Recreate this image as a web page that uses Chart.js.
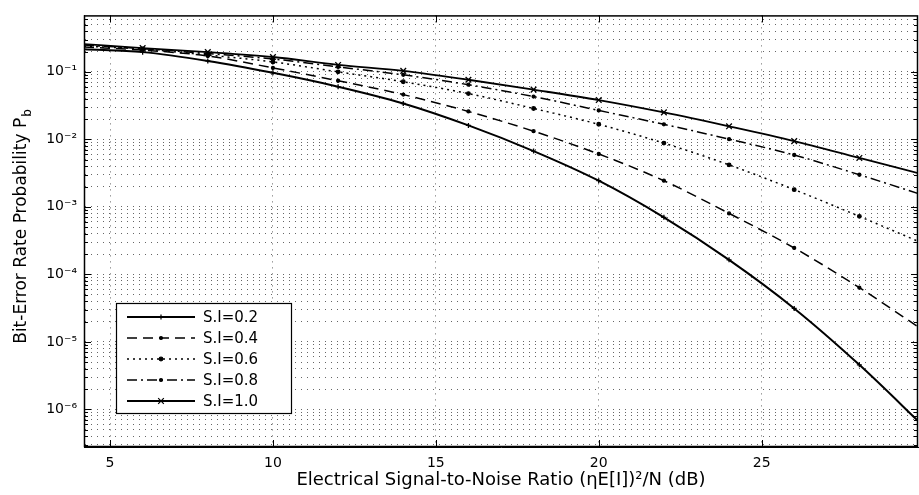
<!DOCTYPE html>
<html>
<head>
<meta charset="utf-8">
<script src="https://cdn.jsdelivr.net/npm/chart.js@4.4.1/dist/chart.umd.min.js"></script>
<style>
  html, body { margin: 0; padding: 0; background: #fff; }
  #wrap { width: 919px; height: 495px; }
</style>
</head>
<body>
<div id="wrap"><canvas id="ber_chart" width="919" height="495"></canvas></div>
<script>
// SNR in dB (x axis)
var snr_db = [4.2, 6, 8, 10, 12, 14, 16, 18, 20, 22, 24, 26, 28, 30];

// bit-error rate per scintillation index
var ber_si02 = [0.217, 0.196, 0.145, 0.0967, 0.0603, 0.034, 0.0161, 0.00671, 0.00244, 0.000699, 0.000164, 3.13e-5, 4.57e-6, 5.45e-7];
var ber_si04 = [0.2326, 0.2102, 0.1717, 0.1145, 0.0738, 0.046, 0.0259, 0.0132, 0.00607, 0.00244, 0.0008, 0.000246, 6.36e-5, 1.44e-5];
var ber_si06 = [0.2405, 0.2174, 0.1775, 0.1402, 0.1, 0.0714, 0.0476, 0.0287, 0.0167, 0.0088, 0.00419, 0.0018, 0.000723, 0.000281];
var ber_si08 = [0.2489, 0.221, 0.1868, 0.1551, 0.1184, 0.0904, 0.0645, 0.043, 0.0268, 0.0167, 0.01007, 0.00586, 0.00299, 0.00147];
var ber_si10 = [0.2575, 0.2248, 0.1965, 0.166, 0.1267, 0.1034, 0.0764, 0.0545, 0.0382, 0.0251, 0.0156, 0.00941, 0.0053, 0.00299];

var series_labels = ['S.I=0.2', 'S.I=0.4', 'S.I=0.6', 'S.I=0.8', 'S.I=1.0'];
var x_ticks = [5, 10, 15, 20, 25];
var y_decades = [-7, -6, -5, -4, -3, -2, -1, 0];

var sup = {'-': '\u207B', '0': '\u2070', '1': '\u00B9', '2': '\u00B2', '3': '\u00B3', '4': '\u2074', '5': '\u2075', '6': '\u2076', '7': '\u2077', '8': '\u2078', '9': '\u2079'};

function toPoints(ys) {
  return snr_db.map(function (x, i) { return {x: x, y: ys[i]}; });
}
// no marker on the points that sit on / past the frame
function markerRadius(r) {
  return snr_db.map(function (x) { return (x < 5 || x > 29) ? 0 : r; });
}
function isDecade(v) {
  var l = Math.log10(v);
  return Math.abs(l - Math.round(l)) < 1e-6;
}

var yMin = 2.77e-7, yMax = 0.686;

var frame_and_legend = {
  id: 'frame_and_legend',
  afterDatasetsDraw: function (chart) {
    var ctx = chart.ctx, a = chart.chartArea;
    var xs = chart.scales.x, ys = chart.scales.y;
    ctx.save();
    // inward tick marks
    ctx.strokeStyle = '#000';
    ctx.lineWidth = 1;
    ctx.beginPath();
    x_ticks.forEach(function (t) {
      var px = Math.round(xs.getPixelForValue(t)) + 0.5;
      ctx.moveTo(px, a.bottom); ctx.lineTo(px, a.bottom - 7);
      ctx.moveTo(px, a.top); ctx.lineTo(px, a.top + 7);
    });
    ys.ticks.forEach(function (t) {
      var py = Math.round(ys.getPixelForValue(t.value)) + 0.5;
      var len = isDecade(t.value) ? 7 : 4;
      ctx.moveTo(a.left, py); ctx.lineTo(a.left + len, py);
      ctx.moveTo(a.right, py); ctx.lineTo(a.right - len, py);
    });
    ctx.stroke();
    // frame
    ctx.lineWidth = 1.5;
    ctx.strokeRect(a.left + 0.5, a.top + 0.5, a.right - a.left - 1, a.bottom - a.top - 1);

    // legend box
    var bx = 116, by = 303, bw = 175, bh = 110;
    ctx.fillStyle = '#fff';
    ctx.fillRect(bx, by, bw, bh);
    ctx.lineWidth = 1.2;
    ctx.strokeRect(bx + 0.5, by + 0.5, bw, bh);
    ctx.font = '15px "DejaVu Sans"';
    ctx.textBaseline = 'middle';
    chart.data.datasets.forEach(function (ds, i) {
      var ry = by + 14 + i * 21;
      ctx.save();
      ctx.strokeStyle = '#000';
      ctx.lineWidth = ds.borderWidth;
      ctx.setLineDash(ds.borderDash || []);
      ctx.beginPath();
      ctx.moveTo(127, ry); ctx.lineTo(195, ry);
      ctx.stroke();
      ctx.restore();
      Chart.helpers.drawPoint(ctx, {
        pointStyle: ds.pointStyle, radius: ds.legendRadius, borderWidth: ds.pointBorderWidth, rotation: 0
      }, 161, ry);
      ctx.fillStyle = '#000';
      ctx.fillText(series_labels[i], 203, ry + 1);
    });
    ctx.restore();
  },
  afterDraw: function (chart) {
    // y axis title with subscript b
    var ctx = chart.ctx;
    ctx.save();
    ctx.translate(22, 227);
    ctx.rotate(-Math.PI / 2);
    ctx.fillStyle = '#000';
    ctx.textBaseline = 'middle';
    var main = 'Bit-Error Rate Probability P';
    ctx.font = '17px "DejaVu Sans"';
    var w1 = ctx.measureText(main).width;
    ctx.font = '12px "DejaVu Sans"';
    var w2 = ctx.measureText('b').width;
    var x0 = -(w1 + w2) / 2;
    ctx.font = '17px "DejaVu Sans"';
    ctx.fillText(main, x0, 0);
    ctx.font = '12px "DejaVu Sans"';
    ctx.fillText('b', x0 + w1 + 1, 6);
    ctx.restore();
  }
};

var dashList = [[], [10, 6], [2, 4], [10, 4, 2, 4], []];
var widthList = [2, 1.5, 1.5, 1.5, 1.8];
var styleList = ['cross', 'circle', 'circle', 'circle', 'crossRot'];
var radiusList = [2.5, 1.5, 1.8, 1.5, 4];
var seriesList = [ber_si02, ber_si04, ber_si06, ber_si08, ber_si10];

var datasets = seriesList.map(function (s, i) {
  return {
    label: series_labels[i],
    data: toPoints(s),
    borderColor: '#000',
    backgroundColor: '#000',
    borderWidth: widthList[i],
    borderDash: dashList[i],
    pointStyle: styleList[i],
    pointRadius: markerRadius(radiusList[i]),
    legendRadius: radiusList[i],
    pointBorderColor: '#000',
    pointBackgroundColor: '#000',
    pointBorderWidth: 1.3,
    cubicInterpolationMode: 'monotone',
    fill: false
  };
});

var ctx = document.getElementById('ber_chart');
var myChart = new Chart(ctx, {
  type: 'line',
  data: {datasets: datasets},
  options: {
    responsive: false,
    animation: false,
    devicePixelRatio: 1,
    layout: {padding: {top: 11, right: 1, left: 0, bottom: 0}},
    plugins: {legend: {display: false}, tooltip: {enabled: false}},
    scales: {
      x: {
        type: 'linear',
        min: 4.2,
        max: 29.8,
        afterBuildTicks: function (scale) {
          scale.ticks = x_ticks.map(function (v) { return {value: v}; });
        },
        afterFit: function (scale) { scale.height = 48; },
        ticks: {
          color: '#000',
          font: {family: 'DejaVu Sans', size: 14},
          padding: 8,
          maxRotation: 0,
          autoSkip: false
        },
        grid: {color: 'rgba(0,0,0,0.6)', lineWidth: 1, drawTicks: false},
        border: {display: true, color: '#000', dash: [1, 5]},
        title: {
          display: true,
          text: 'Electrical Signal-to-Noise Ratio (\u03B7E[I])\u00B2/N (dB)',
          color: '#000',
          font: {family: 'DejaVu Sans', size: 18},
          padding: {top: 0, bottom: 4}
        }
      },
      y: {
        type: 'logarithmic',
        min: yMin,
        max: yMax,
        afterBuildTicks: function (scale) {
          var t = [];
          y_decades.forEach(function (e) {
            for (var m = 1; m <= 9; m++) {
              var v = m * Math.pow(10, e);
              if (v >= yMin && v <= yMax) t.push({value: v});
            }
          });
          scale.ticks = t;
        },
        afterFit: function (scale) { scale.width = 84; },
        ticks: {
          autoSkip: false,
          color: '#000',
          font: {family: 'DejaVu Sans', size: 14},
          padding: 7,
          callback: function (v) {
            if (!isDecade(v)) return '';
            var e = String(Math.round(Math.log10(v)));
            return '10' + e.split('').map(function (c) { return sup[c]; }).join('');
          }
        },
        grid: {color: 'rgba(0,0,0,0.6)', lineWidth: 1, drawTicks: false},
        border: {display: true, color: '#000', dash: [1, 5]}
      }
    }
  },
  plugins: [frame_and_legend]
});
</script>
</body>
</html>
